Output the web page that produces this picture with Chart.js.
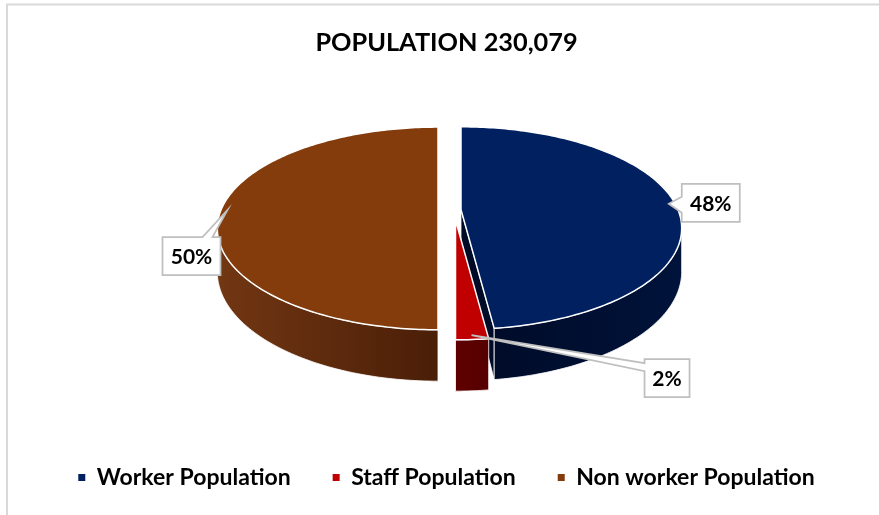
<!DOCTYPE html>
<html>
<head>
<meta charset="utf-8">
<title>Population</title>
<script src="https://cdn.jsdelivr.net/npm/chart.js@4.4.1/dist/chart.umd.min.js"></script>
<style>
  html, body { margin: 0; padding: 0; background: #fff; }
  #wrap { width: 879px; height: 515px; position: relative; }
</style>
</head>
<body>
<div id="wrap"><canvas id="popChart"></canvas></div>
<script>
const titleText = 'POPULATION 230,079';
const categories = ['Worker Population', 'Staff Population', 'Non worker Population'];
const shares = [48, 2, 50];

const topColors = ['#002060', '#c00000', '#843c0c'];
const sideColors = [['#000a26', '#00133a'], ['#600000', '#560000'], ['#723713', '#4a1e07']];
const pull = [[11.5, -0.3], [6, 10], [-11.5, 0]]; // exploded slices, px on screen

// callout box offset from the anchor point, and where its pointer joins the box
const callouts = [
  { x: 13, y: -20, side: 'left', base: [13, 29] },
  { x: 173, y: 24, side: 'left', base: [4, 12] },
  { x: -65, y: 27, side: 'top', base: [40, 50] },
];

// tilted pie: centre, radii, perspective and thickness
const view = { cx: 449.5, cy: 210, rx: 217, ry: 98, persp: 0.182, depth: 42 };

function project(X, Z, h) {
  const w = 1 - view.persp * Z;
  return [view.cx + view.rx * X / w, view.cy + (view.ry * Z + view.depth * h) / w];
}

function area(poly) {
  let s = 0;
  for (let i = 0; i < poly.length; i++) {
    const a = poly[i], b = poly[(i + 1) % poly.length];
    s += a[0] * b[1] - b[0] * a[1];
  }
  return s / 2;
}

function sliceGeometry(arc, i) {
  const a0 = arc.startAngle, a1 = arc.endAngle;
  const mid = (a0 + a1) / 2;
  const [dx, dy] = pull[i];
  const pt = (ang, r, h) => {
    const p = project(r * Math.cos(ang), r * Math.sin(ang), h);
    return [p[0] + dx, p[1] + dy];
  };
  const n = Math.max(2, Math.ceil((a1 - a0) / (Math.PI / 180)));
  const angles = [];
  for (let j = 0; j <= n; j++) angles.push(a0 + (a1 - a0) * j / n);
  return { i, a0, a1, mid, dx, dy, pt, angles };
}

function pathPoly(ctx, poly) {
  ctx.beginPath();
  poly.forEach((p, k) => (k ? ctx.lineTo(p[0], p[1]) : ctx.moveTo(p[0], p[1])));
  ctx.closePath();
}

function drawSlice(ctx, g) {
  const i = g.i;
  const ct = g.pt(0, 0, 0), cb = g.pt(0, 0, 1);
  const xs = g.angles.map(a => g.pt(a, 1, 0)[0]);
  const grad = ctx.createLinearGradient(Math.min(...xs), 0, Math.max(...xs), 0);
  grad.addColorStop(0, sideColors[i][0]);
  grad.addColorStop(1, sideColors[i][1]);

  const faces = [];
  const cutStart = [ct, cb, g.pt(g.a0, 1, 1), g.pt(g.a0, 1, 0)];
  const cutEnd = [ct, g.pt(g.a1, 1, 0), g.pt(g.a1, 1, 1), cb];
  if (area(cutStart) > 0) faces.push(cutStart);
  if (area(cutEnd) > 0) faces.push(cutEnd);

  // outer wall: only the part that faces us
  let run = [];
  const flush = () => {
    if (run.length > 1) {
      const poly = run.map(a => g.pt(a, 1, 0)).concat(run.slice().reverse().map(a => g.pt(a, 1, 1)));
      faces.push(poly);
    }
    run = [];
  };
  for (let j = 0; j < g.angles.length - 1; j++) {
    const a = g.angles[j], b = g.angles[j + 1];
    const q = [g.pt(a, 1, 0), g.pt(a, 1, 1), g.pt(b, 1, 1), g.pt(b, 1, 0)];
    if (area(q) > 0) {
      if (!run.length) run.push(a);
      run.push(b);
    } else flush();
  }
  flush();

  ctx.lineJoin = 'round';
  faces.forEach(f => {
    pathPoly(ctx, f);
    ctx.fillStyle = grad;
    ctx.fill();
    ctx.strokeStyle = 'rgba(255,255,255,0.8)';
    ctx.lineWidth = 1;
    ctx.stroke();
  });

  const topFace = [ct].concat(g.angles.map(a => g.pt(a, 1, 0)));
  pathPoly(ctx, topFace);
  ctx.fillStyle = topColors[i];
  ctx.fill();
  ctx.strokeStyle = '#ffffff';
  ctx.lineWidth = 1.5;
  ctx.stroke();
}

function drawCallout(ctx, text, anchor, c) {
  ctx.font = 'bold 21px Lato';
  const w = Math.round(ctx.measureText(text).width) + 16;
  const h = 38;
  const L = anchor[0] + c.x, T = anchor[1] + c.y, R = L + w, B = T + h;
  ctx.beginPath();
  if (c.side === 'left') {
    ctx.moveTo(L, T);
    ctx.lineTo(R, T);
    ctx.lineTo(R, B);
    ctx.lineTo(L, B);
    ctx.lineTo(L, T + c.base[1]);
    ctx.lineTo(anchor[0], anchor[1]);
    ctx.lineTo(L, T + c.base[0]);
  } else {
    ctx.moveTo(L, T);
    ctx.lineTo(L + c.base[0], T);
    ctx.lineTo(anchor[0], anchor[1]);
    ctx.lineTo(L + c.base[1], T);
    ctx.lineTo(R, T);
    ctx.lineTo(R, B);
    ctx.lineTo(L, B);
  }
  ctx.closePath();
  ctx.fillStyle = '#ffffff';
  ctx.fill();
  ctx.strokeStyle = '#bfbfbf';
  ctx.lineWidth = 1.75;
  ctx.lineJoin = 'miter';
  ctx.stroke();

  ctx.fillStyle = '#000000';
  ctx.textAlign = 'center';
  ctx.textBaseline = 'middle';
  ctx.fillText(text, (L + R) / 2, (T + B) / 2 + 1);
}

const pie3d = {
  id: 'pie3d',
  beforeDraw(chart) {
    const ctx = chart.ctx;
    ctx.save();
    ctx.fillStyle = '#ffffff';
    ctx.fillRect(0, 0, chart.width, chart.height);
    ctx.strokeStyle = '#d9d9d9';
    ctx.lineWidth = 2;
    ctx.beginPath();
    ctx.moveTo(7, chart.height + 2);
    ctx.lineTo(7, 4.5);
    ctx.lineTo(chart.width + 2, 4.5);
    ctx.stroke();
    ctx.restore();
  },
  beforeDatasetsDraw(chart) {
    const ctx = chart.ctx;
    const meta = chart.getDatasetMeta(0);
    const slices = meta.data.map((arc, i) => sliceGeometry(arc, i));
    ctx.save();
    slices.slice().sort((a, b) => a.dy - b.dy).forEach(g => drawSlice(ctx, g));
    ctx.restore();
    chart.$slices = slices;
    return false;
  },
  afterDraw(chart) {
    const ctx = chart.ctx;
    const values = chart.data.datasets[0].data;
    const total = values.reduce((s, v) => s + v, 0);
    ctx.save();
    (chart.$slices || []).forEach(g => {
      const pct = Math.round(values[g.i] / total * 100) + '%';
      drawCallout(ctx, pct, g.pt(g.mid, 0.97, 0), callouts[g.i]);
    });
    ctx.restore();
  },
};

function buildChart() {
  new Chart(document.getElementById('popChart'), {
    type: 'pie',
    data: {
      labels: categories,
      datasets: [{
        data: shares,
        backgroundColor: topColors,
        borderWidth: 0,
      }],
    },
    options: {
      responsive: true,
      maintainAspectRatio: false,
      animation: false,
      events: [],
      layout: { padding: { left: 14, bottom: 16 } },
      plugins: {
        title: {
          display: true,
          text: titleText,
          color: '#000',
          font: { family: 'Lato', size: 25.3, weight: 'bold' },
          padding: { top: 28, bottom: 10 },
        },
        legend: {
          position: 'bottom',
          labels: {
            boxWidth: 7,
            boxHeight: 7,
            padding: 42,
            color: '#000',
            font: { family: 'Lato', size: 23, weight: 'bold' },
          },
        },
        tooltip: { enabled: false },
      },
    },
    plugins: [pie3d],
  });
}

Promise.all([
  document.fonts.load('bold 25px Lato'),
  document.fonts.load('bold 23px Lato'),
]).then(buildChart, buildChart);
</script>
</body>
</html>
